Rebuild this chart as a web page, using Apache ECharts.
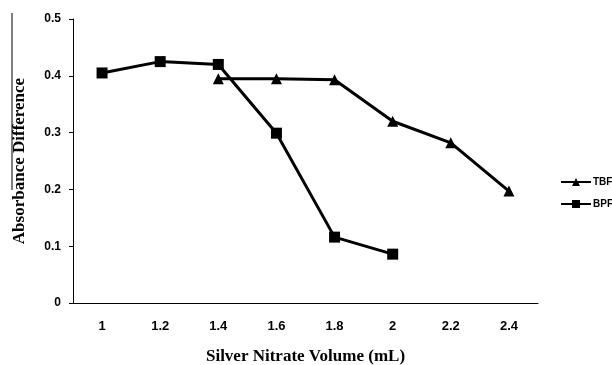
<!DOCTYPE html>
<html>
<head>
<meta charset="utf-8">
<script src="https://cdn.jsdelivr.net/npm/echarts@6/dist/echarts.min.js"></script>
<style>
  html, body { margin: 0; padding: 0; background: #fff; }
  #chart { width: 612px; height: 365px; }
</style>
</head>
<body>
<div id="chart"></div>
<script>
// Silver nitrate volume (mL) on the category axis
const volumes = ['1', '1.2', '1.4', '1.6', '1.8', '2', '2.2', '2.4'];
// Absorbance difference per volume; null where not measured
const tbfValues = [null, null, 0.395, 0.395, 0.393, 0.32, 0.282, 0.197];
const bpfValues = [0.405, 0.425, 0.42, 0.299, 0.116, 0.086, null, null];
const yTicks = [0, 0.1, 0.2, 0.3, 0.4, 0.5];

const chart = echarts.init(document.getElementById('chart'));
const sansBold = 'Liberation Sans, Arial, sans-serif';
const serifBold = 'Liberation Serif, Times New Roman, serif';

chart.setOption({
  animation: false,
  grid: { left: 73, right: 74, top: 19, bottom: 62, containLabel: false, outerBoundsMode: 'none' },
  legend: {
    orient: 'vertical',
    left: 560,
    top: 177,
    padding: 0,
    itemWidth: 30,
    itemHeight: 10,
    itemGap: 12,
    textStyle: { fontFamily: sansBold, fontWeight: 'bold', fontSize: 10, color: '#000', padding: [0, 0, 0, -3] },
    data: ['TBF', 'BPF']
  },
  xAxis: {
    type: 'category',
    data: volumes,
    boundaryGap: true,
    axisLine: { lineStyle: { color: '#000', width: 1 } },
    axisTick: { alignWithLabel: true, length: 4, lineStyle: { color: '#000' } },
    axisLabel: { margin: 17, fontFamily: sansBold, fontWeight: 'bold', fontSize: 13, color: '#000' },
    name: 'Silver Nitrate Volume (mL)',
    nameLocation: 'middle',
    nameGap: 45,
    nameTextStyle: { fontFamily: serifBold, fontWeight: 'bold', fontSize: 17, color: '#000' }
  },
  yAxis: {
    type: 'value',
    min: yTicks[0],
    max: yTicks[yTicks.length - 1],
    interval: 0.1,
    splitLine: { show: false },
    axisLine: { show: true, lineStyle: { color: '#000', width: 1 } },
    axisTick: { show: true, length: 4, lineStyle: { color: '#000' } },
    axisLabel: { margin: 12, fontFamily: sansBold, fontWeight: 'bold', fontSize: 12, color: '#000', formatter: v => String(+v.toFixed(1)) },
    name: 'Absorbance Difference',
    nameLocation: 'middle',
    nameGap: 45,
    nameTextStyle: { fontFamily: serifBold, fontWeight: 'bold', fontSize: 17, color: '#000' }
  },
  graphic: [
    { type: 'line', shape: { x1: 12, y1: 13, x2: 12, y2: 190 }, style: { stroke: '#000', lineWidth: 1 } }
  ],
  series: [
    {
      name: 'TBF',
      type: 'line',
      data: tbfValues,
      symbol: 'triangle',
      symbolSize: 11,
      itemStyle: { color: '#000' },
      lineStyle: { color: '#000', width: 3 }
    },
    {
      name: 'BPF',
      type: 'line',
      data: bpfValues,
      symbol: 'rect',
      symbolSize: 11,
      itemStyle: { color: '#000' },
      lineStyle: { color: '#000', width: 3 }
    }
  ]
});
</script>
</body>
</html>
